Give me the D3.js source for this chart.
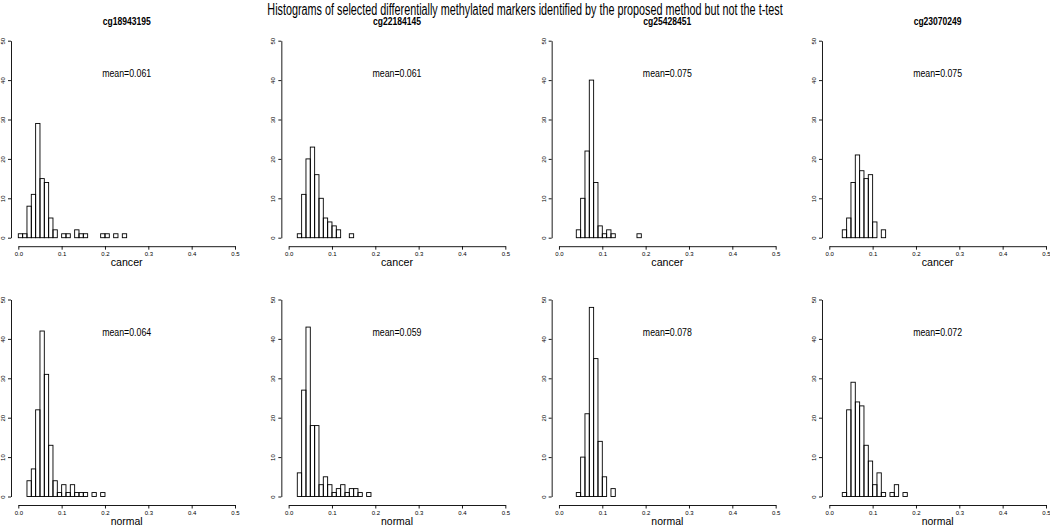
<!DOCTYPE html>
<html>
<head>
<meta charset="utf-8">
<script src="https://cdn.jsdelivr.net/npm/d3@7"></script>
<style>
  html, body { margin: 0; padding: 0; background: #fff; }
  svg { display: block; font-family: "Liberation Sans", Arial, Helvetica, sans-serif; }
</style>
</head>
<body>
<svg id="chart" width="1050" height="528"></svg>
<script>
// ---- data (counts per bin of width 0.01 starting at 0.0) ----
const title = "Histograms of selected differentially methylated markers identified by the proposed method but not the t-test";
const markers = ["cg18943195", "cg22184145", "cg25428451", "cg23070249"];
const groups = ["cancer", "normal"];
const binWidth = 0.01;
const xTicks = [0.0, 0.1, 0.2, 0.3, 0.4, 0.5];
const yTicks = [0, 10, 20, 30, 40, 50];

const cancer_cg18943195 = [1,1,8,11,29,15,14,5,2,0,1,1,0,2,1,1,0,0,0,1,1,0,1,0,1];
const cancer_cg22184145 = [0,0,1,11,20,23,16,10,5,4,3,2,0,0,1];
const cancer_cg25428451 = [0,0,0,0,2,10,22,40,14,3,1,2,1,0,0,0,0,0,1];
const cancer_cg23070249 = [0,0,0,2,5,14,21,17,15,16,4,0,2];
const normal_cg18943195 = [0,0,4,7,22,42,31,13,4,1,3,1,3,1,1,1,0,1,0,1];
const normal_cg22184145 = [0,0,6,27,43,18,18,3,5,3,1,2,3,1,2,2,1,0,1];
const normal_cg25428451 = [0,0,0,0,1,10,21,48,35,14,5,0,2];
const normal_cg23070249 = [0,0,0,1,22,29,24,23,13,9,3,6,1,0,1,3,0,1];

const cancerMeans = ["0.061", "0.061", "0.075", "0.075"];
const normalMeans = ["0.064", "0.059", "0.078", "0.072"];

const counts = {
  cancer: [cancer_cg18943195, cancer_cg22184145, cancer_cg25428451, cancer_cg23070249],
  normal: [normal_cg18943195, normal_cg22184145, normal_cg25428451, normal_cg23070249]
};
const means = { cancer: cancerMeans, normal: normalMeans };

// ---- layout ----
const svg = d3.select("#chart");
const nBins = 50;
const colStep = 270.33, firstLeft = 18.3, plotW = 216.7;
const rowStep = 258.8, baseY = 237.7, topY = 40.7;

// text squeezed horizontally (the original graphic has narrow glyphs)
function squeezed(parent, str, cx, baseline, size, width, weight) {
  const t = parent.append("text")
    .attr("x", 0).attr("y", 0)
    .attr("text-anchor", "middle")
    .attr("font-size", size)
    .attr("font-weight", weight || "normal")
    .text(str);
  const natural = t.node().getComputedTextLength();
  const s = width / natural;
  t.attr("transform", `translate(${cx},${baseline}) scale(${s},1)`);
  return t;
}

squeezed(svg, title, 525, 14.5, 16, 516);

groups.forEach((g, r) => {
  markers.forEach((m, c) => {
    const left = firstLeft + c * colStep;
    const x = d3.scaleLinear().domain([0, 0.5]).range([left, left + plotW]);
    const y = d3.scaleLinear().domain([0, 50]).range([baseY + r * rowStep, topY + r * rowStep]);
    const data = counts[g][c];
    const bins = d3.range(nBins).map(i => ({ x0: i * binWidth, x1: (i + 1) * binWidth, n: data[i] || 0 }));
    const gp = svg.append("g");

    gp.selectAll("rect").data(bins).join("rect")
      .attr("x", d => x(d.x0))
      .attr("width", d => x(d.x1) - x(d.x0))
      .attr("y", d => y(d.n))
      .attr("height", d => y(0) - y(d.n))
      .attr("fill", "none")
      .attr("stroke", "#000")
      .attr("stroke-width", 0.9);

    // x axis
    const xa = gp.append("g")
      .attr("transform", `translate(0,${y(0) + 8.5})`)
      .call(d3.axisBottom(x).tickValues(xTicks).tickFormat(d3.format(".1f")).tickSize(3.5).tickSizeOuter(0).tickPadding(2));
    xa.selectAll("text").attr("font-size", 6).attr("font-family", "Liberation Sans, Arial, sans-serif");
    xa.selectAll("path, line").attr("stroke", "#000").attr("stroke-width", 0.9);

    // y axis
    const yx = left - 7.3;
    const ya = gp.append("g")
      .attr("transform", `translate(${yx},0)`)
      .call(d3.axisLeft(y).tickValues(yTicks).tickSize(3).tickSizeOuter(0).tickFormat(d3.format("d")));
    ya.selectAll("path, line").attr("stroke", "#000").attr("stroke-width", 0.9);
    ya.selectAll("text")
      .attr("font-size", 6)
      .attr("font-family", "Liberation Sans, Arial, sans-serif")
      .attr("text-anchor", "middle")
      .attr("x", null).attr("dy", null)
      .attr("transform", "translate(-6,0) rotate(-90)");

    // x label
    squeezed(gp, g, left + plotW / 2, y(0) + 28.5, 11, 32);

    // mean label
    squeezed(gp, "mean=" + means[g][c], left + plotW / 2, y(50) + 36, 11, 49);

    // panel title (top row only)
    if (r === 0) {
      squeezed(gp, m, left + plotW / 2, 25, 10, 48, "bold");
    }
  });
});
</script>
</body>
</html>
